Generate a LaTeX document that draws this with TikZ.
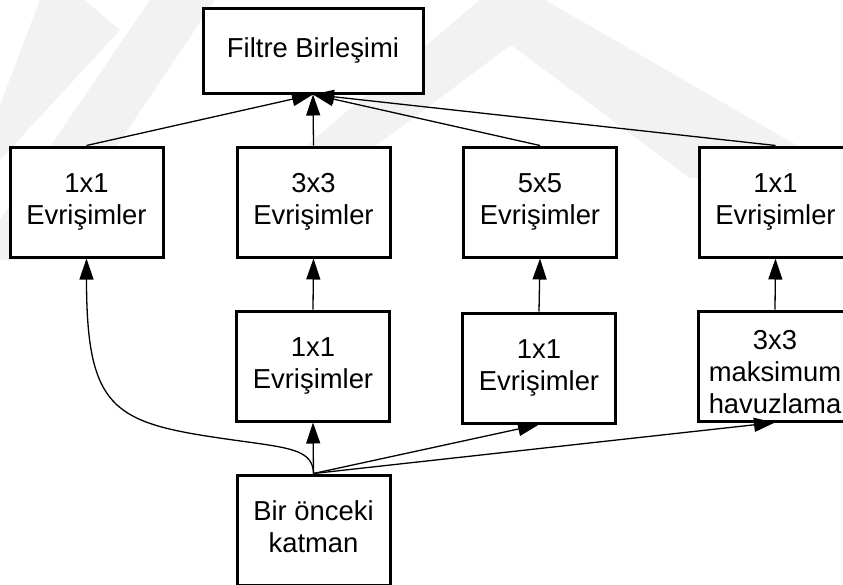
\documentclass[tikz,border=0pt]{standalone}
\usepackage{fontspec}
\setmainfont{Liberation Sans}
\usetikzlibrary{arrows.meta}

\tikzset{
  box/.style={draw=black, line width=3pt, fill=white, minimum width=153pt,
              minimum height=110pt, inner sep=0pt, align=center,
              font=\fontsize{27.4}{32}\selectfont},
  boxtext/.style={inner sep=0pt, align=center, font=\fontsize{27.4}{32}\selectfont},
  conn/.style={draw=black, line width=1.3pt,
               -{Triangle[length=21pt,width=14pt]}},
  wm/.style={fill=black!5}
}

\begin{document}
\begin{tikzpicture}[x=1pt,y=-1pt]
  \useasboundingbox (0,0) rectangle (843,584);
  \clip (0,0) rectangle (843,584);
  \fill[white] (0,0) rectangle (843,584);

  % faint background emblem
  \fill[wm] (40,0) -- (85,0) -- (120,30) -- (0,160) -- (0,105) -- cycle;
  \fill[wm] (150,0) -- (215,0) -- (40,260) -- (0,260) -- (0,220) -- cycle;
  \fill[wm] (480,0) -- (545,0) -- (805,150) -- (770,178) -- (690,178) -- (511,45) -- (330,180) -- (265,180) -- cycle;

  % top: concatenation
  \node[box, minimum width=220pt, minimum height=85pt] (F) at (313,50.5) {Filtre Birleşimi};

  % second row
  \node[box] (c1) at (86.5,202) {1x1\\Evrişimler};
  \node[box] (c2) at (313.5,202) {3x3\\Evrişimler};
  \node[box] (c3) at (540,202) {5x5\\Evrişimler};
  \node[box] (c4) at (775.5,202) {1x1\\Evrişimler};

  % third row
  \node[box] (r2) at (313,366) {1x1\\Evrişimler};
  \node[box] (r3) at (539,368) {1x1\\Evrişimler};
  \node[box] (r4) at (775,366) {};
  \node[boxtext] (r4t) at (775,372) {3x3\\maksimum\\havuzlama};

  % input
  \node[box] (B) at (313.5,530) {};
  \node[boxtext] (Bt) at (313.5,527) {Bir önceki\\katman};

  % connectors into the concatenation
  \draw[conn] (c1.north) -- (F.south);
  \draw[conn] (c2.north) -- (F.south);
  \draw[conn] (c3.north) -- (F.south);
  \draw[conn] (c4.north) -- (F.south);

  % reductions into the larger convolutions
  \draw[conn] (r2.north) -- (c2.south);
  \draw[conn] (r3.north) -- (c3.south);
  \draw[conn] (r4.north) -- (c4.south);

  % fan-out from the previous layer
  \draw[conn] (B.north) .. controls (313,445) and (280,448) .. (200,435)
                        .. controls (110,420) and (86.5,400) .. (c1.south);
  \draw[conn] (B.north) -- (r2.south);
  \draw[conn] (B.north) -- (r3.south);
  \draw[conn] (B.north) -- (r4.south);
\end{tikzpicture}
\end{document}
